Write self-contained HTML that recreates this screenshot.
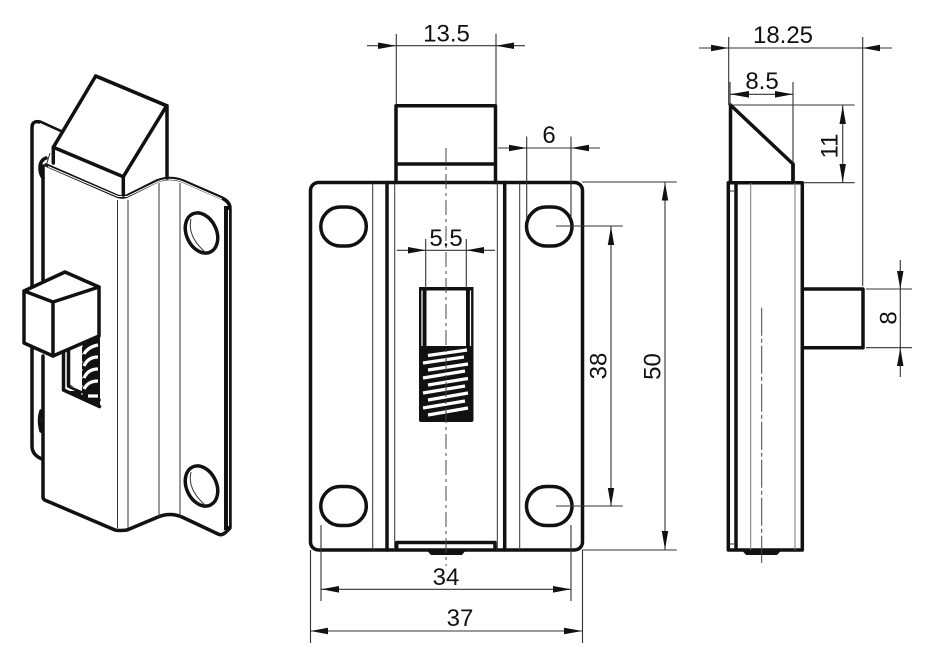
<!DOCTYPE html>
<html><head><meta charset="utf-8"><style>
html,body{margin:0;padding:0;background:#fff}
svg{display:block}
text{font-family:"Liberation Sans",sans-serif;font-size:24px;fill:#111;text-anchor:middle}
.k{fill:none;stroke:#111;stroke-width:3.5;stroke-linejoin:round;stroke-linecap:round}
.t{fill:none;stroke:#333;stroke-width:1}
.g{fill:none;stroke:#777;stroke-width:1}
.d{fill:none;stroke:#333;stroke-width:1.1}
.a{fill:#111;stroke:none}
</style></head><body>
<svg width="934" height="651" viewBox="0 0 934 651" xmlns="http://www.w3.org/2000/svg">
<rect width="934" height="651" fill="#fff"/>

<!-- ISO VIEW -->
<path class="k" d="M62 132L40 122Q32 120 32 128V291"/>
<path class="k" d="M32 345V446Q32 455 42 459"/>
<path d="M40 123.500L61 133" stroke="#fff" stroke-width="1" fill="none"/>
<path class="k" d="M43 356V497Q43 500 47 501L115 530Q120 531 127 530L158 517Q170 512 182 517L218 534Q222 536 226 532L230 528V208Q230 202 222 198L183 181Q170 176 157 181L127 196Q122 198 117 196L46 165" stroke-width="4"/>
<path class="k" d="M43 291V166"/>
<path d="M227 206V530" stroke="#111" stroke-width="6" fill="none"/>
<path d="M228.500 210V526" stroke="#fff" stroke-width="1" fill="none"/>
<path d="M48 166.500L118 196.500H127L158 181.500Q170 177 182 181.500L222 199" fill="none" stroke="#fff" stroke-width="1"/>
<path d="M48 498.500L116 527.500" stroke="#fff" stroke-width="1" fill="none"/>
<path class="k" d="M46 158Q40 160 40 168Q40 174 43 178" stroke-width="2.500"/>
<path class="t" d="M50 153L46 166"/>
<path class="k" d="M41 411Q38 420 41 431" stroke-width="3"/>
<path class="t" d="M117.500 200V528M128 200V528M159 183V517M180 183V517"/>

<!-- wedge -->
<path class="k" d="M95.700 76L166.700 105.700L123.300 176.700L53.300 147.300Z" style="fill:#fff"/>
<path class="k" d="M95.700 76L166.700 105.700" stroke-width="5"/>
<path class="k" d="M53.300 147.300V163M123.300 176.700V195M167 105.700V178"/>

<!-- holes -->
<ellipse cx="201.500" cy="233" rx="15" ry="21" transform="rotate(-25 201.500 233)" class="k" stroke-width="3"/>
<ellipse cx="201.500" cy="486" rx="15" ry="21" transform="rotate(-25 201.500 486)" class="k" stroke-width="3"/>
<path class="t" d="M191 219Q187 236 205 252M191 472Q187 489 205 505"/>

<!-- window + spring -->
<path d="M82 344L100 336V407L64 391L82 391Z" fill="#111"/>
<path class="k" d="M63.500 350V390L99.500 406.500" stroke-width="3.500"/>
<path class="k" d="M68.500 348V386L99 400" stroke-width="2.500"/>
<path d="M70 386L82 391V388Z" fill="#fff"/>
<path d="M84 354Q88 347 98 345M84 366Q88 357 98 357M84 378Q88 369 98 369M84 389Q88 381 98 381M88 396H98" fill="none" stroke="#fff" stroke-width="3.200"/>
<path d="M82 345V395" stroke="#fff" stroke-width="1" stroke-dasharray="2 6" fill="none"/>

<!-- cube -->
<path class="k" d="M65 272L99 287V336L53 356L24 343V291Z" style="fill:#fff"/>
<path class="k" d="M24 291L53 302L99 287M53 302V356"/>

<!-- FRONT VIEW -->
<path class="k" d="M396 182.500V105.700H495.500V182.500M396 164H495.500"/>
<rect class="k" x="310.500" y="182.500" width="272" height="367.500" rx="8"/>
<path class="k" d="M387 182.500V550M504.700 182.500V550"/>
<path class="t" d="M372.700 183V550M394.700 183V550M497.300 183V550M519.700 183V550"/>
<rect class="k" x="320.800" y="207" width="45.500" height="39" rx="19.500" stroke-width="3"/>
<rect class="k" x="526.500" y="207" width="45.500" height="39" rx="19.500" stroke-width="3"/>
<rect class="k" x="320.800" y="486.500" width="45.500" height="39" rx="19.500" stroke-width="3"/>
<rect class="k" x="526.500" y="486.500" width="45.500" height="39" rx="19.500" stroke-width="3"/>

<!-- slot -->
<path d="M419 287H473.500V346H419Z" fill="#111"/>
<rect x="426.500" y="290.500" width="39.500" height="56" fill="#fff"/>
<path d="M422 290.500V346M470.500 290.500V346" stroke="#fff" stroke-width="1.200" fill="none"/>
<path d="M419 346H473.500V420Q473.500 422 471 422H421Q419 422 419 420Z" fill="#111"/>
<g fill="none" stroke="#fff" stroke-width="3.200">
<path d="M428 355.500L467 350"/>
<path d="M423 363L464 357"/>
<path d="M428 370L468 364"/>
<path d="M423 378L465 371"/>
<path d="M428 385L468 378.500"/>
<path d="M423 393L465 386"/>
<path d="M428 400L468 393"/>
<path d="M423 408L465 401"/>
<path d="M428 415L468 408"/>
</g>

<!-- bottom of front -->
<path class="k" d="M396.700 549V542.500H495V549" stroke-width="1.600"/>
<path d="M426.500 550H466L462 555H431Z" fill="#111"/>
<path d="M446 148V566" stroke="#444" stroke-width="1" stroke-dasharray="15 4 3 4" fill="none"/>

<!-- dims front -->
<path class="d" d="M367 45.700H525M396.300 34V104M496 34V104"/>
<path class="a" d="M396 45.700L378 42.500V49ZM496 45.700L514 42.500V49Z"/>
<text x="446.500" y="41.500">13.5</text>

<path class="d" d="M498 148H600M526.700 136.500V218M571 136.500V218"/>
<path class="a" d="M526.700 148L509 144.800V151.200ZM571 148L589 144.800V151.200Z"/>
<text x="549" y="143">6</text>

<path class="d" d="M396.700 250.300H495M425.700 239V288M466.300 239V288"/>
<path class="a" d="M425.700 250.300L408 247V253.500ZM466.300 250.300L484 247V253.500Z"/>
<text x="446" y="246">5.5</text>

<path class="d" d="M321.500 589.300H571M321 525V601M571 525V601"/>
<path class="a" d="M321.500 589.300L339 586V592.600ZM571 589.300L553 586V592.600Z"/>
<text x="446" y="585">34</text>

<path class="d" d="M310.500 631H582.500M310.500 550V643M582.500 550V643"/>
<path class="a" d="M310.500 631L328 627.800V634.200ZM582.500 631L564 627.800V634.200Z"/>
<text x="460" y="626">37</text>

<path class="d" d="M611 226V506M556 226H622.700M556 506H622.700"/>
<path class="a" d="M611 226.500L607.800 245H614.200ZM611 506L607.800 488H614.200Z"/>
<text transform="translate(606.700 366) rotate(-90)">38</text>

<path class="d" d="M665 182V550M582 182H676.700M582 550H676.700"/>
<path class="a" d="M665 182.500L661.800 200.500H668.200ZM665 549.500L661.800 531H668.200Z"/>
<text transform="translate(660.700 366.500) rotate(-90)">50</text>

<!-- SIDE VIEW -->
<path class="k" d="M730.500 105V182M730.500 105L793 164V182"/>
<path class="k" d="M793 164V182" stroke-width="4"/>
<path class="k" d="M728.300 182.700H802.300V550H728.300ZM736 182.700V550"/>
<path class="t" d="M729 191H734M729 544H734"/>
<path class="g" d="M750.700 183V550M795 183V550"/>
<path d="M741.700 550H781.700L777 555H746Z" fill="#111"/>
<path d="M761.700 307.700V563" stroke="#444" stroke-width="1" stroke-dasharray="28 3 4 3" fill="none"/>
<path class="k" d="M802.300 289H863V347.700H802.300"/>

<path class="d" d="M699 48H892M728.700 37V105M862.700 37V286"/>
<path class="a" d="M728.700 48L711 44.800V51.200ZM862.700 48L880 44.800V51.200Z"/>
<text x="783" y="43">18.25</text>

<path class="d" d="M730 94.300H793M730 82V105M793 82V163"/>
<path class="a" d="M730 94.300L749 91V97.600ZM793 94.300L775 91V97.600Z"/>
<text x="762" y="89">8.5</text>

<path class="d" d="M842.700 105V182.700M733 105H854.700M803 182.700H854.700"/>
<path class="a" d="M842.700 105.500L839.500 124H845.900ZM842.700 182.500L839.500 164H845.900Z"/>
<text transform="translate(837.700 146) rotate(-90)">11</text>

<path class="d" d="M900.300 260V377M866 289H912M866 347.700H912"/>
<path class="a" d="M900.300 289L897 271H903.500ZM900.300 347.700L897 366H903.500Z"/>
<text transform="translate(896.700 318) rotate(-90)">8</text>
</svg>
</body></html>
